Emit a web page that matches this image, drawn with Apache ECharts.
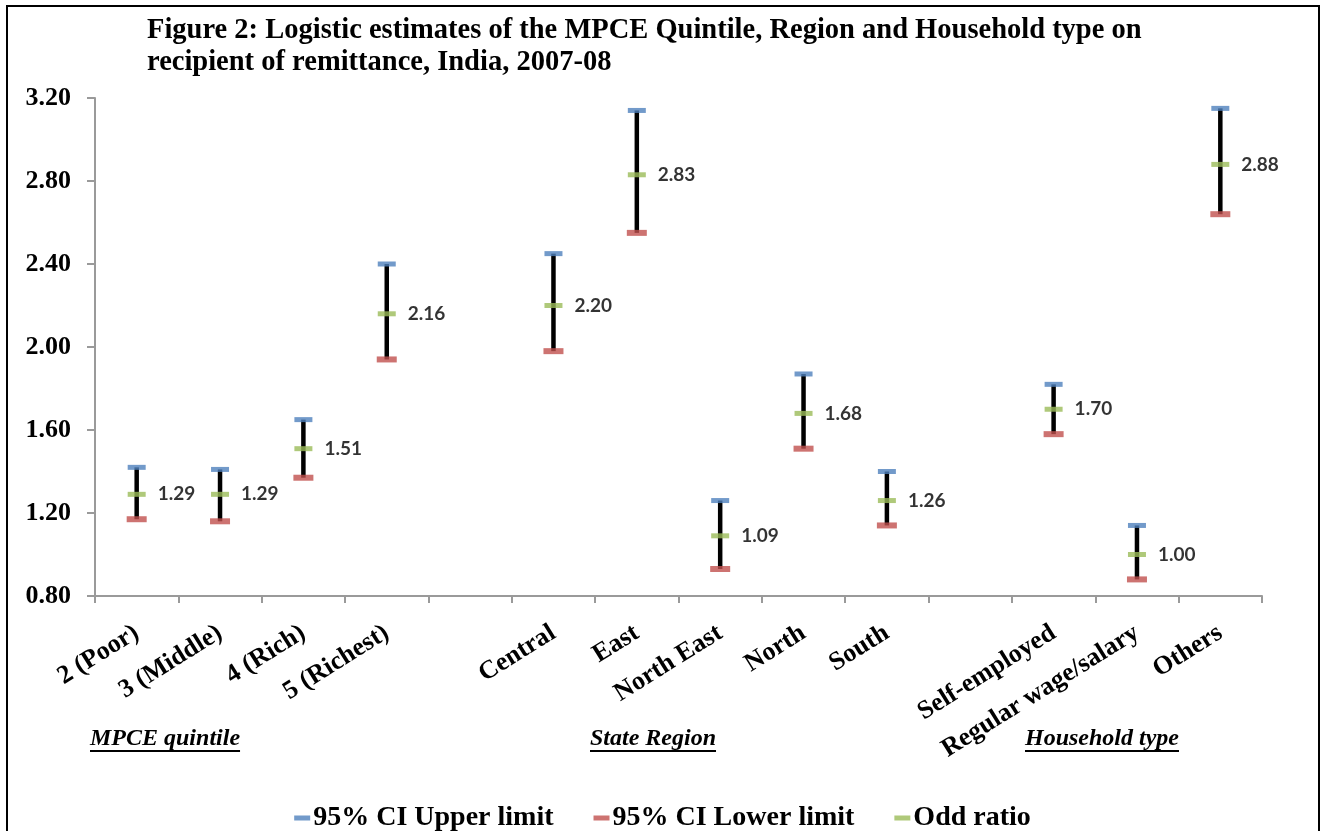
<!DOCTYPE html>
<html>
<head>
<meta charset="utf-8">
<script src="https://cdn.jsdelivr.net/npm/echarts@6/dist/echarts.min.js"></script>
<style>
  html, body { margin: 0; padding: 0; background: #fff; overflow: hidden; }
  #chart { position: absolute; left: 0; top: 0; width: 1325px; height: 831px; }
  #frame { position: absolute; left: 6px; top: 5px; width: 1310px; height: 900px; border: 2px solid #000; pointer-events: none; }
</style>
</head>
<body>
<div id="chart"></div>
<div id="frame"></div>
<script>
// ---- data ----
const categories = ['2 (Poor)', '3 (Middle)', '4 (Rich)', '5 (Richest)', ' ',
  'Central', 'East', 'North East', 'North', 'South', '  ',
  'Self-employed', 'Regular wage/salary', 'Others'];
const upperCI = [1.42, 1.41, 1.65, 2.40, null, 2.45, 3.14, 1.26, 1.87, 1.40, null, 1.82, 1.14, 3.15];
const lowerCI = [1.17, 1.16, 1.37, 1.94, null, 1.98, 2.55, 0.93, 1.51, 1.14, null, 1.58, 0.88, 2.64];
const oddRatio = [1.29, 1.29, 1.51, 2.16, null, 2.20, 2.83, 1.09, 1.68, 1.26, null, 1.70, 1.00, 2.88];
const groupLabels = ['MPCE quintile', 'State Region', 'Household type'];
const yTicks = { min: 0.8, max: 3.2, interval: 0.4 };

// ---- chart ----
const serif = 'Liberation Serif, Times New Roman, serif';
const chart = echarts.init(document.getElementById('chart'), null, { renderer: 'canvas' });

const toSeries = arr => arr.map(v => (v == null ? '-' : v));
const barData = [];
categories.forEach((c, i) => {
  if (upperCI[i] != null && lowerCI[i] != null) barData.push([i, lowerCI[i], upperCI[i]]);
});

// group captions (underlined, bold italic)
const groupFont = 'italic bold 24px ' + serif;
const measureCtx = document.createElement('canvas').getContext('2d');
measureCtx.font = groupFont;
const groupX = [90, 590, 1025];
const graphics = [];
groupLabels.forEach((g, k) => {
  const w = measureCtx.measureText(g).width;
  graphics.push({
    type: 'text', left: groupX[k], top: 727,
    style: { text: g, font: groupFont, fill: '#000' }
  });
  graphics.push({
    type: 'rect', left: groupX[k], top: 750,
    shape: { width: w, height: 2 },
    style: { fill: '#000' }
  });
});

const option = {
  backgroundColor: '#fff',
  animation: false,
  title: {
    text: 'Figure 2: Logistic estimates of the MPCE Quintile, Region and Household type on\nrecipient of remittance, India, 2007-08',
    left: 142, top: 10,
    textStyle: { fontFamily: serif, fontWeight: 'bold', fontSize: 28.5, lineHeight: 32, color: '#000' }
  },
  grid: { left: 95, right: 63, top: 98, bottom: 235, containLabel: false },
  legend: {
    data: ['95% CI Upper limit', '95% CI Lower limit', 'Odd ratio'],
    left: 'center', top: 799,
    icon: 'rect', itemWidth: 16, itemHeight: 5, itemGap: 40,
    textStyle: { fontFamily: serif, fontWeight: 'bold', fontSize: 28, color: '#000', padding: [0, 0, 0, -2] }
  },
  xAxis: {
    type: 'category', data: categories, boundaryGap: true,
    axisLine: { lineStyle: { color: '#9a9a9a', width: 2 } },
    axisTick: { show: true, interval: 0, length: 7, lineStyle: { color: '#9a9a9a', width: 2 } },
    axisLabel: {
      interval: 0, rotate: 32, margin: 35,
      fontFamily: serif, fontWeight: 'bold', fontSize: 26, color: '#000'
    },
    splitLine: { show: false }
  },
  yAxis: {
    type: 'value', min: yTicks.min, max: yTicks.max, interval: yTicks.interval,
    axisLine: { show: true, lineStyle: { color: '#9a9a9a', width: 2 } },
    axisTick: { show: true, length: 8, lineStyle: { color: '#9a9a9a', width: 2 } },
    axisLabel: {
      margin: 24, formatter: v => v.toFixed(2),
      fontFamily: serif, fontWeight: 'bold', fontSize: 26, color: '#000'
    },
    splitLine: { show: false }
  },
  graphic: graphics,
  series: [
    {
      type: 'custom', name: 'CI range', z: 1,
      data: barData,
      encode: { x: 0, y: [1, 2] },
      renderItem: function (params, api) {
        const a = api.coord([api.value(0), api.value(1)]);
        const b = api.coord([api.value(0), api.value(2)]);
        return { type: 'line', shape: { x1: a[0], y1: a[1], x2: b[0], y2: b[1] },
          style: { stroke: '#000', lineWidth: 4.5 } };
      }
    },
    {
      type: 'scatter', name: '95% CI Upper limit', z: 3,
      data: toSeries(upperCI), symbol: 'rect', symbolSize: [18, 5],
      itemStyle: { color: '#4F81BD' }
    },
    {
      type: 'scatter', name: '95% CI Lower limit', z: 3,
      data: toSeries(lowerCI), symbol: 'rect', symbolSize: [20, 6],
      itemStyle: { color: '#C0504D' }
    },
    {
      type: 'scatter', name: 'Odd ratio', z: 3,
      data: toSeries(oddRatio), symbol: 'rect', symbolSize: [18, 5],
      itemStyle: { color: '#9BBB59' },
      label: {
        show: true, position: 'right', distance: 12,
        formatter: p => {
          const v = Array.isArray(p.value) ? p.value[1] : p.value;
          return Number(v).toFixed(2);
        },
        fontFamily: 'Lato, Carlito, sans-serif', fontWeight: 'bold', fontSize: 19, color: '#000'
      }
    }
  ]
};
chart.setOption(option);
</script>
</body>
</html>
